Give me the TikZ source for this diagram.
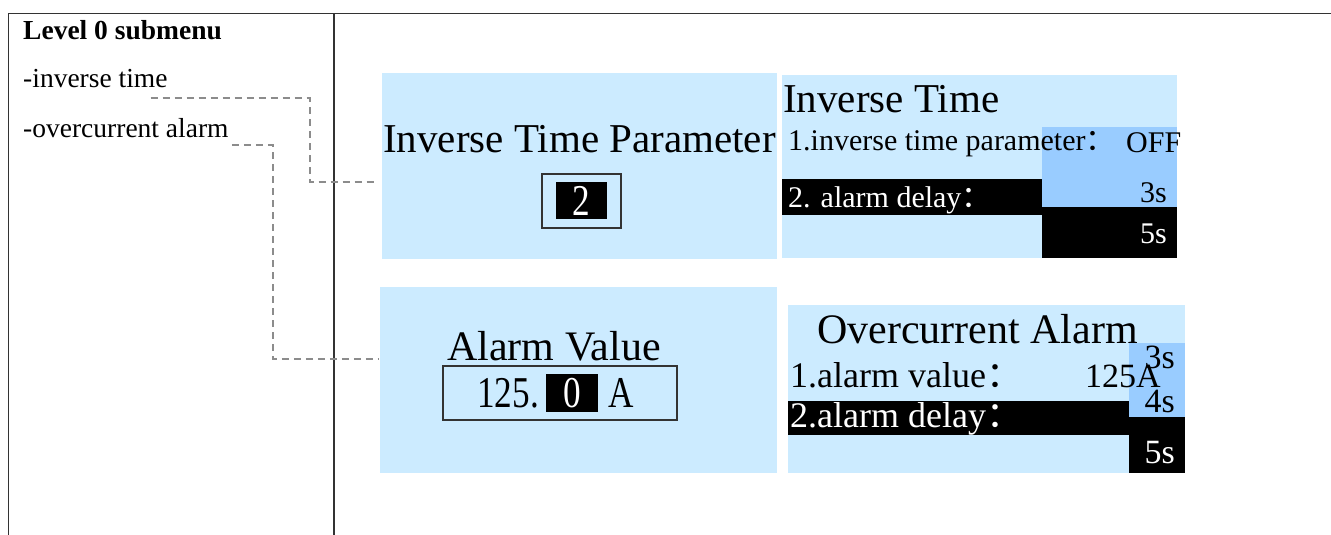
\documentclass[tikz,border=0pt]{standalone}
\usepackage{fontspec}
\setmainfont{Liberation Serif}
\newfontfamily\lcdfont[FakeStretch=0.8]{Liberation Serif}
\newfontfamily\cjk{Noto Sans CJK SC}
\usetikzlibrary{positioning, calc}
\definecolor{panelblue}{HTML}{CCEBFF}
\definecolor{selblue}{HTML}{99CCFF}
\definecolor{linkgray}{HTML}{8C8C8C}
\definecolor{rulegray}{HTML}{333333}
\newcommand{\fc}{{\cjk ：}}
\newcommand{\fs}[1]{\fontsize{#1}{#1}\selectfont}

\begin{document}
\begin{tikzpicture}[x=1pt, y=-1pt,
    rule/.style={draw=rulegray, line width=1.9pt},
    link/.style={draw=linkgray, line width=2.3pt, dash pattern=on 7pt off 5pt},
    panel/.style={fill=panelblue, inner sep=0pt, anchor=north west},
    selbox/.style={fill=selblue, inner sep=0pt, anchor=north west},
    blackbar/.style={fill=black, inner sep=0pt, anchor=north west},
    txt/.style={inner sep=0pt, anchor=base west},
    lefttxt/.style={txt, font=\fs{27.5}},
    valbox/.style={draw=rulegray, line width=1.4pt, inner sep=0pt},
    valsel/.style={fill=black, text=white, inner sep=0pt, font=\lcdfont\fs{44}}
]
\useasboundingbox (0,0) rectangle (1331,535);

% table
\draw[rule] (8.5,535) -- (8.5,13.5) -- (1331,13.5);
\draw[rule] (334,13.5) -- (334,535);

\node[lefttxt, font=\bfseries\fs{27.5}] (lvl) at (23,40) {Level 0 submenu};
\node[lefttxt] (inv) at (23,88) {-inverse time};
\node[lefttxt] (oca) at (23,137) {-overcurrent alarm};

% screens
\node[panel, minimum width=395pt, minimum height=186pt] (itp) at (382,73) {};
\node[txt, anchor=base, font=\fs{41}] (itptitle) at (579.5,152) {Inverse Time Parameter};
\node[valbox, minimum width=79pt, minimum height=54pt] (itpbox) at (581.5,201) {};
\node[valsel, minimum width=51pt, minimum height=37pt] (itpval) at (581.5,200.5) {2};

\node[panel, minimum width=395pt, minimum height=183pt] (itm) at (782,75) {};
\node[selbox, minimum width=135pt, minimum height=80pt] (itmsel) at (1042,127) {};
\node[blackbar, minimum width=260pt, minimum height=36pt] (itmbar) at (782,179) {};
\node[blackbar, minimum width=135pt, minimum height=51pt] (itmval) at (1042,207) {};
\node[txt, font=\fs{41}] (itmtitle) at (783,112) {Inverse Time};
\node[txt, font=\fs{30}] (itmone) at (788,150) {1.inverse time parameter\fc};
\node[txt, font=\fs{30}] (itmoff) at (1126,152) {OFF};
\node[txt, anchor=base east, font=\fs{30}] (itmthree) at (1167,202) {3s};
\node[txt, anchor=base east, font=\fs{30}, text=white] (itmfive) at (1167,243) {5s};
\node[txt, font=\fs{30}, text=white] (itmtwo) at (788,207) {2. alarm delay\fc};

\node[panel, minimum width=397pt, minimum height=186pt] (alv) at (380,287) {};
\node[txt, font=\fs{42}] (alvtitle) at (447,360) {Alarm Value};
\node[valbox, minimum width=234pt, minimum height=54pt] (alvbox) at (560,393) {};
\node[txt, font=\lcdfont\fs{44}] (alvnum) at (477,407) {125.};
\node[valsel, minimum width=52pt, minimum height=38pt] (alvval) at (572,393) {0};
\node[txt, font=\lcdfont\fs{44}] (alvunit) at (608,407) {A};

\node[panel, minimum width=397pt, minimum height=168pt] (ocm) at (788,305) {};
\node[selbox, minimum width=56pt, minimum height=74pt] (ocmsel) at (1129,343) {};
\node[blackbar, minimum width=341pt, minimum height=34pt] (ocmbar) at (788,401) {};
\node[blackbar, minimum width=56pt, minimum height=56pt] (ocmval) at (1129,417) {};
\node[txt, font=\fs{42}] (ocmtitle) at (817,343) {Overcurrent Alarm};
\node[txt, font=\fs{36}] (ocmone) at (790,387) {1.alarm value\fc};
\node[txt, font=\fs{34}] (ocmamp) at (1085,387) {125A};
\node[txt, anchor=base east, font=\fs{34}] (ocmthree) at (1175,368) {3s};
\node[txt, anchor=base east, font=\fs{34}] (ocmfour) at (1175,412) {4s};
\node[txt, font=\fs{36}, text=white] (ocmtwo) at (790,427) {2.alarm delay\fc};
\node[txt, anchor=base east, font=\fs{34}, text=white] (ocmfive) at (1175,463) {5s};

% links
\coordinate (itpin) at (378,182);
\coordinate (alvin) at (378,359);
\draw[link] ([xshift=-17pt, yshift=-10pt]inv.base east) -- ++(159,0) |- (itpin);
\draw[link] ([xshift=3pt, yshift=-8pt]oca.base east) -- ++(41,0) |- (alvin);
\end{tikzpicture}
\end{document}
